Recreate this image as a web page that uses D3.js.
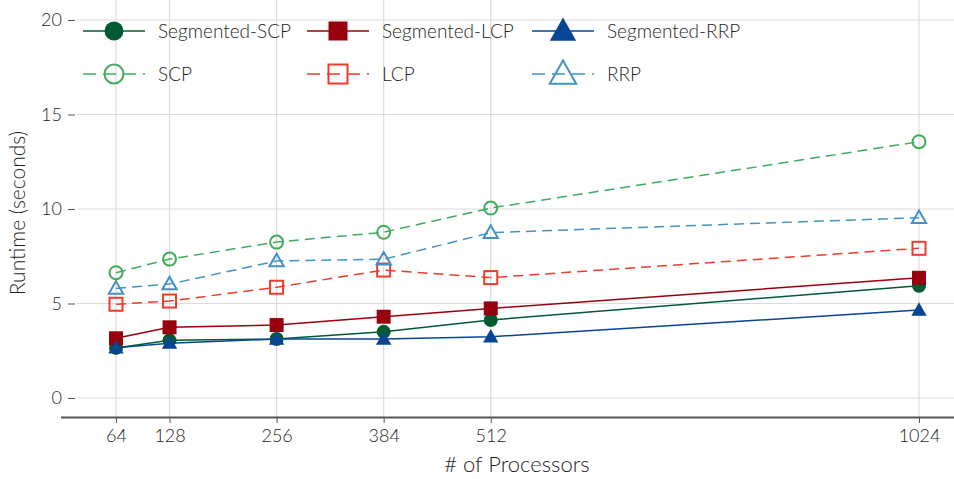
<!DOCTYPE html>
<html>
<head>
<meta charset="utf-8">
<script src="https://cdn.jsdelivr.net/npm/d3@7"></script>
<style>
  html, body { margin: 0; padding: 0; background: #fff; }
  svg { display: block; font-family: "Lato", "Open Sans", sans-serif; font-weight: 300; }
</style>
</head>
<body>
<svg id="chart" width="954" height="479"></svg>
<script>
// Processor counts on the x axis
const processors = [64, 128, 256, 384, 512, 1024];
const xTicks = [64, 128, 256, 384, 512, 1024];
const yTicks = [0, 5, 10, 15, 20];

// Runtime (seconds) per method
const segmentedSCP = [2.65, 3.05, 3.12, 3.5, 4.13, 5.94];
const segmentedLCP = [3.16, 3.74, 3.86, 4.3, 4.74, 6.36];
const segmentedRRP = [2.66, 2.9, 3.12, 3.12, 3.24, 4.65];
const scp = [6.63, 7.35, 8.25, 8.77, 10.05, 13.56];
const lcp = [4.96, 5.13, 5.86, 6.77, 6.37, 7.92];
const rrp = [5.8, 6.03, 7.25, 7.34, 8.75, 9.54];

const series = [
  { name: "SCP", values: scp, color: "#41ab5d", shape: "circle", filled: false, dashed: true },
  { name: "LCP", values: lcp, color: "#ef3b2c", shape: "square", filled: false, dashed: true },
  { name: "RRP", values: rrp, color: "#4292c6", shape: "triangle", filled: false, dashed: true },
  { name: "Segmented-SCP", values: segmentedSCP, color: "#005a32", shape: "circle", filled: true, dashed: false },
  { name: "Segmented-LCP", values: segmentedLCP, color: "#99000d", shape: "square", filled: true, dashed: false },
  { name: "Segmented-RRP", values: segmentedRRP, color: "#084594", shape: "triangle", filled: true, dashed: false }
];

const svg = d3.select("#chart");
const W = 954;
const textColor = "#1e1e1e";

const x = d3.scaleLinear().domain([64, 1024]).range([116, 919]);
const y = d3.scaleLinear().domain([0, 20]).range([398, 20]);
const axisY = 417;

// Grid
const grid = svg.append("g");
grid.selectAll("line.v").data(xTicks).join("line")
  .attr("x1", d => x(d)).attr("x2", d => x(d))
  .attr("y1", 0).attr("y2", axisY)
  .attr("stroke", "#dcdcdc").attr("stroke-width", 1.2);
grid.selectAll("line.h").data(yTicks).join("line")
  .attr("x1", 77).attr("x2", W)
  .attr("y1", d => y(d)).attr("y2", d => y(d))
  .attr("stroke", "#dcdcdc").attr("stroke-width", 1.2);

// Y axis (ticks and labels only)
const yAxis = d3.axisLeft(y).tickValues(yTicks).tickSize(7).tickPadding(6);
const gy = svg.append("g").attr("transform", "translate(75,0)").call(yAxis);
gy.select(".domain").remove();
gy.selectAll(".tick line").attr("stroke", "#555");
gy.selectAll(".tick text").attr("fill", textColor).style("font-size", "18px")
  .style("font-family", "Lato, sans-serif").style("font-weight", 300);

// X axis
const xAxis = d3.axisBottom(x).tickValues(xTicks).tickFormat(d3.format("d"))
  .tickSize(6).tickPadding(6).tickSizeOuter(0);
const gx = svg.append("g").attr("transform", `translate(0,${axisY})`).call(xAxis);
gx.select(".domain").attr("d", `M61,0.5H${W}`).attr("stroke", "#555").attr("stroke-width", 2);
gx.selectAll(".tick line").attr("stroke", "#555");
gx.selectAll(".tick text").attr("fill", textColor).style("font-size", "18px")
  .style("font-family", "Lato, sans-serif").style("font-weight", 300);

// Axis titles
svg.append("text").attr("x", 517).attr("y", 472).attr("text-anchor", "middle")
  .attr("fill", textColor).style("font-size", "22px").text("# of Processors");
svg.append("text").attr("transform", "translate(25,213) rotate(-90)").attr("text-anchor", "middle")
  .attr("fill", textColor).style("font-size", "21px").text("Runtime (seconds)");

// Marker drawing
function marker(g, shape, size, color, filled) {
  let el;
  if (shape === "circle") {
    el = g.append("circle").attr("r", size / 2);
  } else if (shape === "square") {
    el = g.append("rect").attr("x", -size / 2).attr("y", -size / 2).attr("width", size).attr("height", size);
  } else {
    const h = size * 0.9;
    el = g.append("path").attr("d", `M0,${-h * 0.62}L${size * 0.55},${h * 0.45}L${-size * 0.55},${h * 0.45}Z`);
  }
  if (filled) el.attr("fill", color).attr("stroke", "none");
  else el.attr("fill", "none").attr("stroke", color).attr("stroke-width", 2);
}

const line = d3.line().x(d => x(d[0])).y(d => y(d[1]));

series.forEach(s => {
  const pts = processors.map((p, i) => [p, s.values[i]]);
  const g = svg.append("g");
  g.append("path").datum(pts).attr("d", line)
    .attr("fill", "none").attr("stroke", s.color).attr("stroke-width", 1.5)
    .attr("stroke-dasharray", s.dashed ? "10,6" : null);
  pts.forEach(p => {
    const mg = g.append("g").attr("transform", `translate(${x(p[0])},${y(p[1])})`);
    marker(mg, s.shape, s.filled ? 14 : 13, s.color, s.filled);
  });
});

// Legend
const legendItems = [
  { s: series[3], col: 0, row: 0 },
  { s: series[4], col: 1, row: 0 },
  { s: series[5], col: 2, row: 0 },
  { s: series[0], col: 0, row: 1 },
  { s: series[1], col: 1, row: 1 },
  { s: series[2], col: 2, row: 1 }
];
const colX = [83, 307, 532];
const rowY = [31, 74];
legendItems.forEach(it => {
  const lx = colX[it.col], ly = rowY[it.row];
  const g = svg.append("g").attr("transform", `translate(${lx},${ly})`);
  g.append("line").attr("x1", 0).attr("x2", 62).attr("y1", 0).attr("y2", 0)
    .attr("stroke", it.s.color).attr("stroke-width", 1.5)
    .attr("stroke-dasharray", it.s.dashed ? "13,7" : null);
  const mg = g.append("g").attr("transform", "translate(31,0)");
  marker(mg, it.s.shape, it.s.shape === "triangle" ? 24 : 19, it.s.color, it.s.filled);
  g.append("text").attr("x", 75).attr("y", 7).attr("fill", textColor)
    .style("font-size", "19px").text(it.s.name);
});
</script>
</body>
</html>
